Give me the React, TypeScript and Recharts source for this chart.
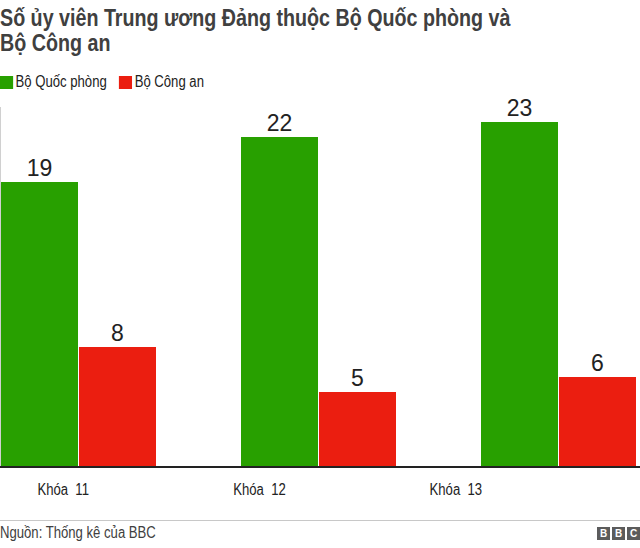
import { BarChart, Bar, XAxis, YAxis, LabelList } from "recharts";

const categories = ["Khóa  11", "Khóa  12", "Khóa  13"];
const quocPhong = [19, 22, 23];
const congAn = [8, 5, 6];
const seriesNames = ["Bộ Quốc phòng", "Bộ Công an"];
const seriesColors = ["#28a000", "#eb1e10"];

const data = categories.map((name, i) => ({
  name,
  qp: quocPhong[i],
  ca: congAn[i],
}));

const font = "'Liberation Sans', Arial, Helvetica, sans-serif";
// the reference text looks squeezed horizontally
const squeeze = 0.82;

function SqueezedTick({ x, y, payload }: any) {
  return (
    <g transform={`translate(${x},${y}) scale(${squeeze},1)`}>
      <text
        x={0}
        y={0}
        dy={19}
        textAnchor="middle"
        fontSize={16}
        fill="#222"
        fontFamily={font}
        style={{ whiteSpace: "pre" }}
        xmlSpace="preserve"
      >
        {payload.value}
      </text>
    </g>
  );
}

export default function App() {
  return (
    <div
      style={{
        position: "absolute",
        left: 0,
        top: 0,
        width: 640,
        height: 548,
        overflow: "hidden",
        background: "#fff",
        fontFamily: font,
      }}
    >
      <div
        style={{
          position: "absolute",
          left: 0,
          top: 5,
          width: 780,
          fontSize: 24,
          fontWeight: "bold",
          lineHeight: "25px",
          color: "#404040",
          transform: `scaleX(${squeeze})`,
          transformOrigin: "0 0",
        }}
      >
        Số ủy viên Trung ương Đảng thuộc Bộ Quốc phòng và
        <br />
        Bộ Công an
      </div>

      <div
        style={{
          position: "absolute",
          left: 0,
          top: 74,
          display: "flex",
          alignItems: "center",
          fontSize: 16,
          lineHeight: "16px",
          color: "#222",
          transform: `scaleX(${squeeze})`,
          transformOrigin: "0 0",
        }}
      >
        {seriesNames.map((n, i) => (
          <div key={n} style={{ display: "flex", alignItems: "center", marginRight: 15 }}>
            <span
              style={{
                display: "inline-block",
                width: 16,
                height: 13,
                background: seriesColors[i],
                marginRight: 3,
              }}
            />
            <span>{n}</span>
          </div>
        ))}
      </div>

      <div
        style={{
          position: "absolute",
          left: 0,
          top: 107,
          height: 360,
          borderLeft: "1px solid #d0d0d0",
        }}
      />

      <div style={{ position: "absolute", left: -42, top: 80 }}>
        <BarChart
          width={720}
          height={428}
          data={data}
          margin={{ top: 27, right: 0, bottom: 0, left: 0 }}
          barGap={1}
        >
          <YAxis hide domain={[0, 24]} />
          <XAxis
            xAxisId="axLabels"
            dataKey="name"
            height={40}
            axisLine={false}
            tickLine={false}
            padding={{ left: 7, right: 124 }}
            tick={<SqueezedTick />}
            interval={0}
          />
          <XAxis
            xAxisId="axBars"
            dataKey="name"
            height={1}
            tick={false}
            tickLine={false}
            axisLine={{ stroke: "#222", strokeWidth: 2 }}
          />
          <Bar xAxisId="axBars" dataKey="qp" name={seriesNames[0]} fill={seriesColors[0]} barSize={77} isAnimationActive={false}>
            <LabelList dataKey="qp" position="top" offset={6} style={{ fontSize: 23, fill: "#222", fontFamily: font }} />
          </Bar>
          <Bar xAxisId="axBars" dataKey="ca" name={seriesNames[1]} fill={seriesColors[1]} barSize={77} isAnimationActive={false}>
            <LabelList dataKey="ca" position="top" offset={6} style={{ fontSize: 23, fill: "#222", fontFamily: font }} />
          </Bar>
        </BarChart>
      </div>

      <div
        style={{
          position: "absolute",
          left: 0,
          top: 520,
          width: 640,
          borderTop: "1px solid #c8c8c8",
        }}
      />
      <div
        style={{
          position: "absolute",
          left: 0,
          top: 524,
          fontSize: 16,
          whiteSpace: "nowrap",
          color: "#404040",
          transform: `scaleX(${squeeze})`,
          transformOrigin: "0 0",
        }}
      >
        Nguồn: Thống kê của BBC
      </div>
      <div style={{ position: "absolute", right: 0, top: 527, display: "flex", gap: 2 }}>
        {["B", "B", "C"].map((c, i) => (
          <span
            key={i}
            style={{
              width: 13,
              height: 13,
              background: "#5c5c5c",
              color: "#fff",
              fontSize: 10,
              fontWeight: "bold",
              fontFamily: font,
              lineHeight: "13px",
              textAlign: "center",
              display: "inline-block",
            }}
          >
            {c}
          </span>
        ))}
      </div>
    </div>
  );
}
